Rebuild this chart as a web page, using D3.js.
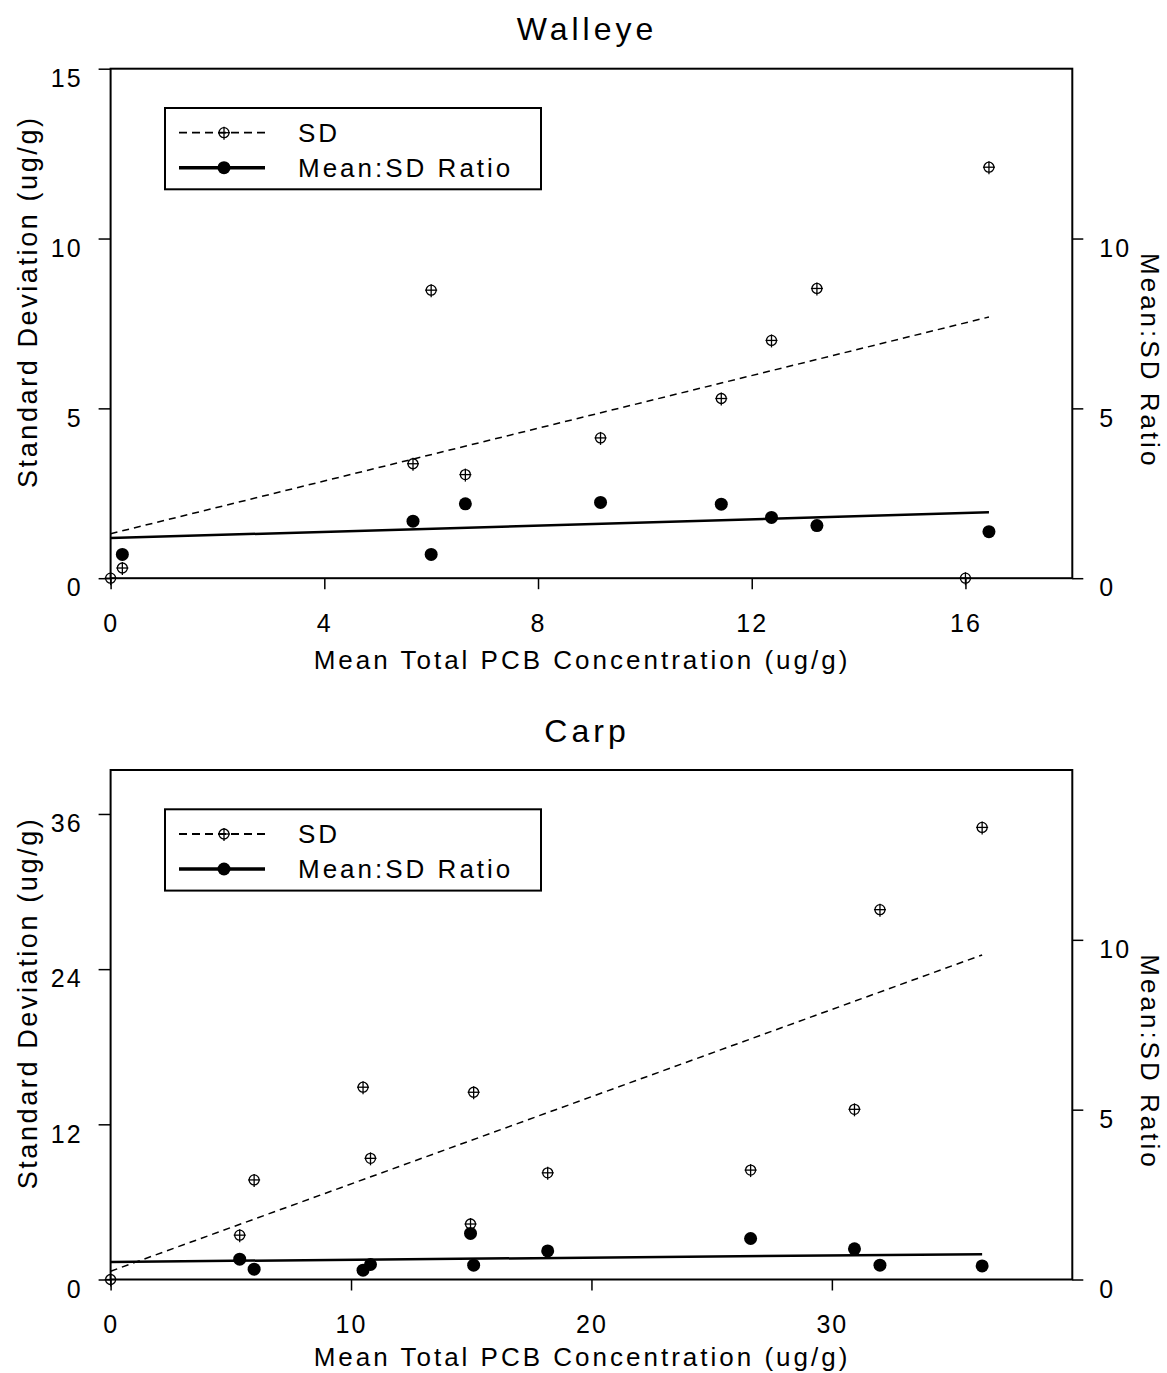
<!DOCTYPE html>
<html>
<head>
<meta charset="utf-8">
<script src="https://cdn.jsdelivr.net/npm/d3@7"></script>
<style>
  body { margin: 0; background: #fff; }
  svg { display: block; }
  text { font-family: "Liberation Sans", Arial, sans-serif; fill: #000; }
</style>
</head>
<body>
<div id="chart"></div>
<script>
// Walleye panel
var walleyeMean  = [0, 0.22, 5.66, 6.0, 6.64, 9.17, 11.43, 12.37, 13.22, 16.0, 16.44];
var walleyeSD    = [0, 0.30, 3.37, 8.48, 3.05, 4.13, 5.29, 7.0, 8.53, 0, 12.1];
var walleyeRatio = [null, 0.70, 1.68, 0.70, 2.19, 2.23, 2.18, 1.79, 1.55, null, 1.37];
var walleyeSDFit    = [[0, 1.31], [16.44, 7.69]];
var walleyeRatioFit = [[0, 1.18], [16.44, 1.94]];
var walleyeXTicks = [0, 4, 8, 12, 16];
var walleyeYTicks = [0, 5, 10, 15];
var walleyeRTicks = [0, 5, 10];

// Carp panel
var carpMean  = [0, 5.37, 5.97, 10.5, 10.81, 14.97, 15.1, 18.18, 26.62, 30.94, 32.0, 36.25];
var carpSD    = [0, 3.43, 7.7, 14.87, 9.37, 4.29, 14.48, 8.25, 8.46, 13.16, 28.6, 34.96];
var carpRatio = [null, 1.57, 0.80, 0.72, 1.16, 3.56, 1.11, 2.21, 3.17, 2.37, 1.11, 1.05];
var carpSDFit    = [[0, 0.64], [36.25, 25.1]];
var carpRatioFit = [[0, 1.36], [36.25, 1.96]];
var carpXTicks = [0, 10, 20, 30];
var carpYTicks = [0, 12, 24, 36];
var carpRTicks = [0, 5, 10];

var legendLabels = ['SD', 'Mean:SD Ratio'];
var xTitle = 'Mean Total PCB Concentration (ug/g)';
var yTitle = 'Standard Deviation (ug/g)';
var rTitle = 'Mean:SD Ratio';

var panels = [
  { title: 'Walleye', mean: walleyeMean, sd: walleyeSD, ratio: walleyeRatio,
    sdFit: walleyeSDFit, ratioFit: walleyeRatioFit,
    xTicks: walleyeXTicks, yTicks: walleyeYTicks, rTicks: walleyeRTicks,
    xMax: 18, yMax: 15, rMax: 15, top: 68.7, xTitleGap: 91 },
  { title: 'Carp', mean: carpMean, sd: carpSD, ratio: carpRatio,
    sdFit: carpSDFit, ratioFit: carpRatioFit,
    xTicks: carpXTicks, yTicks: carpYTicks, rTicks: carpRTicks,
    xMax: 40, yMax: 39.4, rMax: 15, top: 770, xTitleGap: 86.5 }
];

var width = 1167, height = 1373;
var plotLeft = 110.6, plotRight = 1072.3, plotHeight = 509.5;
var FONT = '"Liberation Sans", Arial, sans-serif';

var svg = d3.select('#chart').append('svg')
  .attr('width', width)
  .attr('height', height);

function crosshair(sel, r) {
  sel.append('circle').attr('r', r).attr('fill', 'none').attr('stroke', '#000').attr('stroke-width', 1.3);
  sel.append('line').attr('x1', -r - 1).attr('x2', r + 1).attr('y1', 0).attr('y2', 0)
    .attr('stroke', '#000').attr('stroke-width', 1.3);
  sel.append('line').attr('x1', 0).attr('x2', 0).attr('y1', -r - 1).attr('y2', r + 2)
    .attr('stroke', '#000').attr('stroke-width', 1.3);
}

function styleAxis(g) {
  g.select('.domain').remove();
  g.selectAll('.tick line').attr('stroke', '#000').attr('stroke-width', 1.5);
  g.selectAll('.tick text')
    .attr('font-family', FONT)
    .attr('font-size', 25)
    .style('letter-spacing', '2px')
    .attr('fill', '#000');
}

function drawPanel(p) {
  var top = p.top, bottom = p.top + plotHeight;

  var x = d3.scaleLinear().domain([0, p.xMax]).range([plotLeft, plotRight]);
  var y = d3.scaleLinear().domain([0, p.yMax]).range([bottom, top]);
  var y2 = d3.scaleLinear().domain([0, p.rMax]).range([bottom, top]);

  var g = svg.append('g');

  // title
  g.append('text')
    .attr('x', 587)
    .attr('y', top - 28.5)
    .attr('text-anchor', 'middle')
    .attr('font-size', 32)
    .style('letter-spacing', '4px')
    .text(p.title);

  // axes
  var ax = g.append('g')
    .attr('transform', 'translate(0,' + bottom + ')')
    .call(d3.axisBottom(x).tickValues(p.xTicks).tickSize(11).tickSizeOuter(0).tickPadding(25));
  styleAxis(ax);

  var ay = g.append('g')
    .attr('transform', 'translate(' + plotLeft + ',0)')
    .call(d3.axisLeft(y).tickValues(p.yTicks).tickSize(12).tickSizeOuter(0).tickPadding(16));
  styleAxis(ay);
  ay.selectAll('.tick text').attr('dy', '0.71em');

  var ar = g.append('g')
    .attr('transform', 'translate(' + plotRight + ',0)')
    .call(d3.axisRight(y2).tickValues(p.rTicks).tickSize(11).tickSizeOuter(0).tickPadding(16));
  styleAxis(ar);
  ar.selectAll('.tick text').attr('dy', '0.71em');

  // frame
  g.append('rect')
    .attr('x', plotLeft).attr('y', top)
    .attr('width', plotRight - plotLeft).attr('height', plotHeight)
    .attr('fill', 'none').attr('stroke', '#000').attr('stroke-width', 2);

  // axis titles
  g.append('text')
    .attr('x', 582)
    .attr('y', bottom + p.xTitleGap)
    .attr('text-anchor', 'middle')
    .attr('font-size', 26)
    .style('letter-spacing', '3px')
    .text(xTitle);

  g.append('text')
    .attr('transform', 'translate(37,' + (top + 233) + ') rotate(-90)')
    .attr('text-anchor', 'middle')
    .attr('font-size', 27)
    .style('letter-spacing', '2.6px')
    .text(yTitle);

  g.append('text')
    .attr('transform', 'translate(1141,' + (top + 292) + ') rotate(90)')
    .attr('text-anchor', 'middle')
    .attr('font-size', 26)
    .style('letter-spacing', '3px')
    .text(rTitle);

  // regression lines
  var line = d3.line().x(function(d) { return x(d[0]); }).y(function(d) { return y(d[1]); });

  g.append('path')
    .datum(p.sdFit)
    .attr('d', line)
    .attr('fill', 'none').attr('stroke', '#000').attr('stroke-width', 1.5)
    .attr('stroke-dasharray', '7,5');

  g.append('path')
    .datum(p.ratioFit)
    .attr('d', line)
    .attr('fill', 'none').attr('stroke', '#000').attr('stroke-width', 2.5);

  var pts = p.mean.map(function(m, i) { return { m: m, sd: p.sd[i], r: p.ratio[i] }; });

  // SD points
  g.selectAll('.sd-pt')
    .data(pts)
  .enter().append('g')
    .attr('class', 'sd-pt')
    .attr('transform', function(d) { return 'translate(' + x(d.m) + ',' + y(d.sd) + ')'; })
    .each(function() { crosshair(d3.select(this), 5); });

  // ratio points (plotted against the left scale, as in the source figure)
  g.selectAll('.ratio-pt')
    .data(pts.filter(function(d) { return d.r !== null; }))
  .enter().append('circle')
    .attr('class', 'ratio-pt')
    .attr('cx', function(d) { return x(d.m); })
    .attr('cy', function(d) { return y(d.r); })
    .attr('r', 6.5)
    .attr('fill', '#000');

  // legend
  var lg = g.append('g').attr('transform', 'translate(0,' + top + ')');
  lg.append('rect')
    .attr('x', 165).attr('y', 39.3)
    .attr('width', 376).attr('height', 81.3)
    .attr('fill', '#fff').attr('stroke', '#000').attr('stroke-width', 2);

  lg.append('line')
    .attr('x1', 179).attr('x2', 265).attr('y1', 64).attr('y2', 64)
    .attr('stroke', '#000').attr('stroke-width', 1.8).attr('stroke-dasharray', '8,5');
  lg.append('g').attr('transform', 'translate(224,64)').call(crosshair, 5);

  lg.append('line')
    .attr('x1', 179).attr('x2', 265).attr('y1', 99).attr('y2', 99)
    .attr('stroke', '#000').attr('stroke-width', 3.5);
  lg.append('circle').attr('cx', 224).attr('cy', 99).attr('r', 6.5).attr('fill', '#000');

  lg.selectAll('.legend-label')
    .data(legendLabels)
  .enter().append('text')
    .attr('class', 'legend-label')
    .attr('x', 298)
    .attr('y', function(d, i) { return 73 + i * 35; })
    .attr('font-size', 26)
    .style('letter-spacing', '3px')
    .text(function(d) { return d; });
}

panels.forEach(drawPanel);
</script>
</body>
</html>
